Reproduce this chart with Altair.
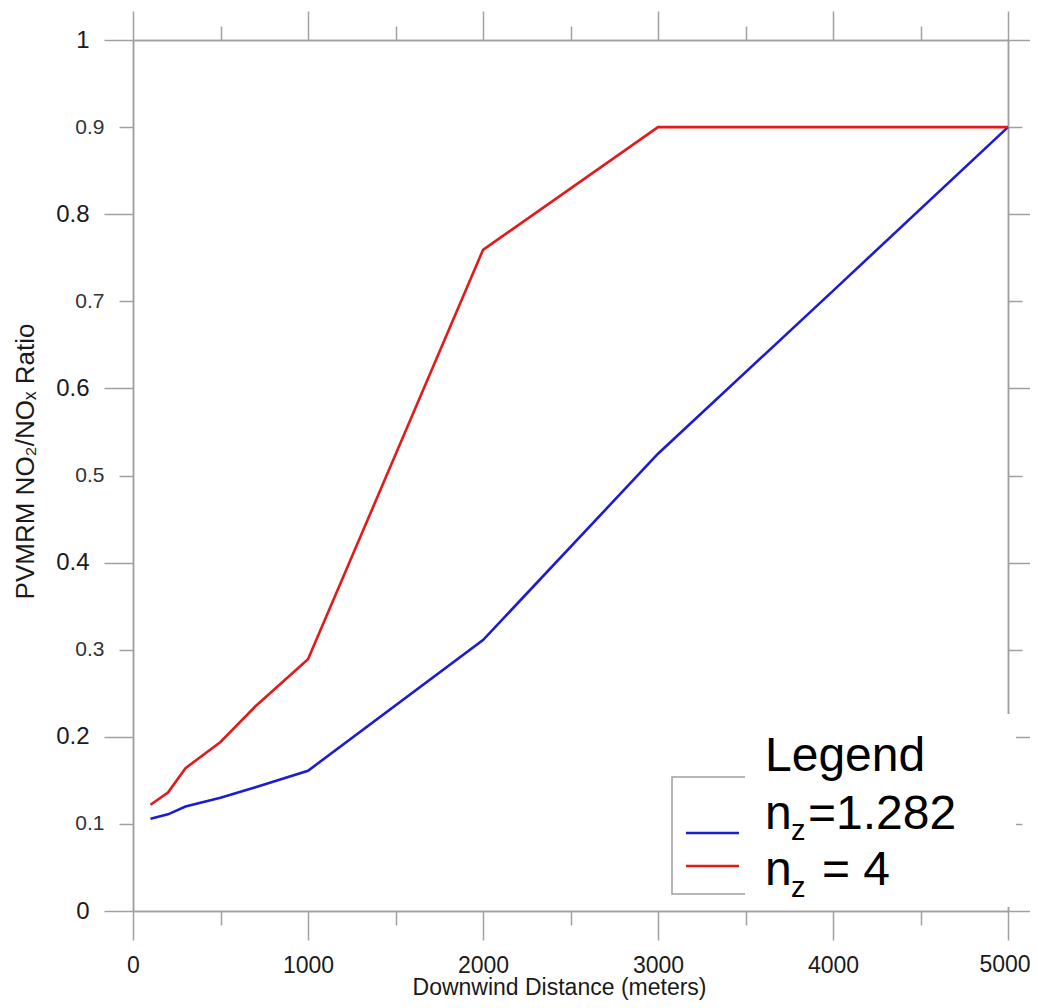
import altair as alt
import pandas as pd

# ---- data ----
distance = [100, 200, 300, 500, 700, 1000, 2000, 3000, 4000, 5000]
ratio_nz_1282 = [0.106, 0.111, 0.120, 0.130, 0.142, 0.161, 0.311, 0.525, 0.712, 0.900]
ratio_nz_4 = [0.122, 0.136, 0.164, 0.194, 0.235, 0.289, 0.759, 0.900, 0.900, 0.900]
series_names = ["n_z=1.282", "n_z = 4"]
series_colors = ["#1c1cd0", "#e21a1a"]

x_major = [0, 1000, 2000, 3000, 4000, 5000]
x_minor = [500, 1500, 2500, 3500, 4500]
y_major = [0, 0.2, 0.4, 0.6, 0.8, 1.0]
y_minor = [0.1, 0.3, 0.5, 0.7, 0.9]
x_last_label = 5000

x_title = "Downwind Distance (meters)"
y_title = "PVMRM NO\u2082/NO\u2093 Ratio"
legend_title = "Legend"
legend_rows = [("n", "z", "=1.282"), ("n", "z", "= 4")]

df = pd.DataFrame({
    "dist": distance * 2,
    "value": ratio_nz_1282 + ratio_nz_4,
    "series": [series_names[0]] * len(distance) + [series_names[1]] * len(distance),
})

GREY = "#a0a0a0"
FONT = "Liberation Sans"
LABEL = "#1a1a1a"
xs = alt.Scale(domain=[0, 5000], nice=False, zero=False)
ys = alt.Scale(domain=[0, 1], nice=False, zero=False)

common = dict(grid=False, domainColor=GREY, tickColor=GREY, domainWidth=1.5,
              tickWidth=1.5, labelFlush=False, labelOverlap=False, labelBound=False)

def axis_layer(xaxis, yaxis):
    return alt.Chart(df).mark_point(opacity=0).encode(
        x=alt.X("dist:Q", scale=xs, axis=xaxis),
        y=alt.Y("value:Q", scale=ys, axis=yaxis),
    )

lines = alt.Chart(df).mark_line(strokeWidth=2.6).encode(
    x=alt.X("dist:Q", scale=xs, axis=alt.Axis(
        orient="bottom", values=x_major, format="d", tickSize=29, labelPadding=14,
        labelFontSize=23, labelColor=LABEL,
        labelExpr=f"datum.value == {x_last_label} ? '' : datum.label",
        title=x_title, titleFontSize=23,
        titleFontWeight="normal", titleColor=LABEL, titleX=426, titleY=83,
        titleAlign="center", titleBaseline="alphabetic", **common)),
    y=alt.Y("value:Q", scale=ys, axis=alt.Axis(
        orient="left", values=y_major, format="~g", tickSize=29, labelPadding=15,
        labelFontSize=24, labelColor=LABEL, title=y_title, titleFontSize=26,
        titleFontWeight="normal", titleColor=LABEL, titleX=-108, titleY=421,
        titleAngle=270, titleAlign="center", titleBaseline="middle", **common)),
    color=alt.Color("series:N", scale=alt.Scale(domain=series_names, range=series_colors),
                    legend=None),
    detail="series:N",
)

# last x tick label drawn as a text mark so it is not cut at the page edge
last_label = alt.Chart(pd.DataFrame({"d": [x_last_label], "t": [str(x_last_label)]})).mark_text(
    align="center", baseline="top", font=FONT, fontSize=23, color=LABEL, dx=-3
).encode(x=alt.X("d:Q", scale=xs, axis=None), y=alt.value(911 - 40 + 29 + 14), text="t:N")

ax_left_minor = axis_layer(
    alt.Axis(orient="bottom", values=x_minor, tickSize=14, labels=False, title=None, **common),
    alt.Axis(orient="left", values=y_minor, format="~g", tickSize=14, labelPadding=15,
             labelFontSize=21, labelColor="#333333", title=None, **common))
ax_top_major = axis_layer(
    alt.Axis(orient="top", values=x_major, tickSize=29, labels=False, title=None, **common),
    alt.Axis(orient="right", values=y_major, tickSize=29, labels=False, title=None, **common))
ax_top_minor = axis_layer(
    alt.Axis(orient="top", values=x_minor, tickSize=14, labels=False, title=None, **common),
    alt.Axis(orient="right", values=y_minor, tickSize=14, labels=False, title=None, **common))

one = pd.DataFrame({"k": [0]})

legend_frame = alt.Chart(one).mark_rect(fill="white", stroke=GREY, strokeWidth=1.5).encode(
    x=alt.value(539), x2=alt.value(627), y=alt.value(737), y2=alt.value(854))
legend_cover = alt.Chart(one).mark_rect(fill="white", strokeWidth=0).encode(
    x=alt.value(612), x2=alt.value(883), y=alt.value(674), y2=alt.value(867))
sample_blue = alt.Chart(one).mark_rule(color=series_colors[0], strokeWidth=2.6).encode(
    x=alt.value(553), x2=alt.value(606), y=alt.value(793))
sample_red = alt.Chart(one).mark_rule(color=series_colors[1], strokeWidth=2.6).encode(
    x=alt.value(553), x2=alt.value(606), y=alt.value(826))

def txt(s, x, y, size):
    return alt.Chart(pd.DataFrame({"t": [s]})).mark_text(
        align="left", baseline="alphabetic", font=FONT, fontSize=size, color="black"
    ).encode(x=alt.value(x), y=alt.value(y), text="t:N")

legend_texts = [
    txt(legend_title, 632, 731, 48),
    txt(legend_rows[0][0], 632, 789, 48),
    txt(legend_rows[0][1], 658, 800, 29),
    txt(legend_rows[0][2], 675, 789, 48),
    txt(legend_rows[1][0], 632, 845, 48),
    txt(legend_rows[1][1], 658, 857, 29),
    txt(legend_rows[1][2], 689, 845, 48),
]

chart = alt.layer(
    ax_left_minor, ax_top_major, ax_top_minor, lines, last_label,
    legend_frame, legend_cover, sample_blue, sample_red, *legend_texts
).resolve_axis(x="independent", y="independent").properties(
    width=875, height=871,
    autosize=alt.AutoSizeParams(type="none"),
    padding={"left": 125, "top": 32, "right": 22, "bottom": 89},
    background="white",
).configure_view(stroke=None).configure(font=FONT)

chart.save("out.html", embed_options={"renderer": "svg", "actions": False})
